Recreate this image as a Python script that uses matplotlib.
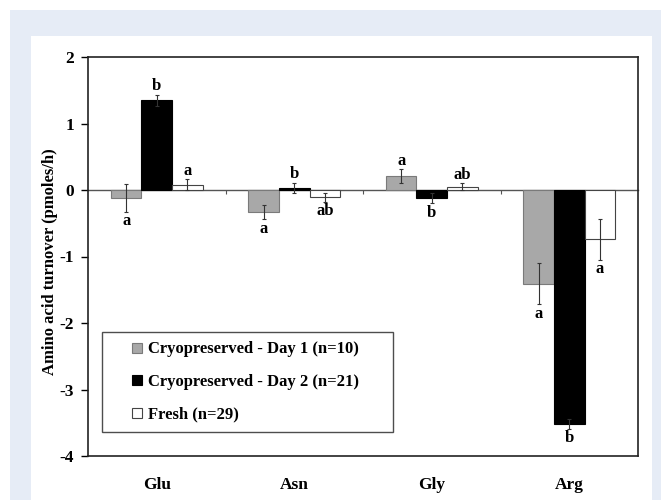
import matplotlib
matplotlib.use("Agg")
import matplotlib.pyplot as plt
from matplotlib.lines import Line2D
from matplotlib.patches import Rectangle
import numpy as np

categories = ["Glu", "Asn", "Gly", "Arg"]
series_names = ["Cryopreserved - Day 1 (n=10)",
                "Cryopreserved - Day 2 (n=21)",
                "Fresh (n=29)"]
day1 = [-0.12, -0.33, 0.21, -1.41]
day2 = [1.35, 0.03, -0.12, -3.52]
fresh = [0.08, -0.11, 0.05, -0.74]
day1_err = [0.21, 0.11, 0.10, 0.31]
day2_err = [0.08, 0.08, 0.08, 0.07]
fresh_err = [0.08, 0.07, 0.05, 0.31]
day1_letters = ["a", "a", "a", "a"]
day2_letters = ["b", "b", "b", "b"]
fresh_letters = ["a", "ab", "ab", "a"]
yticks = [-4, -3, -2, -1, 0, 1, 2]

values = [day1, day2, fresh]
errors = [day1_err, day2_err, fresh_err]
letters = [day1_letters, day2_letters, fresh_letters]
faces = ["#a8a8a8", "#000000", "#ffffff"]
edges = ["#7a7a7a", "#000000", "#444444"]

plt.rcParams['font.family'] = ['Liberation Serif', 'DejaVu Serif']
plt.rcParams['font.weight'] = 'bold'

fig = plt.figure(figsize=(6.61, 5.0), dpi=100)
fig.patch.set_facecolor("white")
# light blue frame and white panel
fig.patches.append(Rectangle((10/661, 0), 1 - 10/661, 1 - 10/500,
                             transform=fig.transFigure, facecolor="#e6ecf6",
                             edgecolor="none", zorder=-2))
fig.patches.append(Rectangle((31/661, 0), (652 - 31)/661, 1 - 36/500,
                             transform=fig.transFigure, facecolor="white",
                             edgecolor="none", zorder=-1))

ax = fig.add_axes([88/661, 44/500, 550/661, 399/500])
ax.set_facecolor("white")

x = np.arange(len(categories))
w = 0.222
offsets = [-w, 0, w]
for i in range(3):
    ax.bar(x + offsets[i], values[i], width=w, color=faces[i],
           edgecolor=edges[i], linewidth=0.8, zorder=2)
    ax.errorbar(x + offsets[i], values[i], yerr=errors[i], fmt="none",
                ecolor="#333333", elinewidth=0.8, capsize=1.5, capthick=0.8,
                zorder=3)
    for j in range(len(categories)):
        v = values[i][j]
        e = errors[i][j]
        if v >= 0:
            ax.annotate(letters[i][j], (x[j] + offsets[i], v + e),
                        xytext=(0, 0.5), textcoords="offset points",
                        ha="center", va="bottom", fontsize=12,
                        fontweight="bold")
        else:
            ax.annotate(letters[i][j], (x[j] + offsets[i], v - e),
                        xytext=(0, -1.0), textcoords="offset points",
                        ha="center", va="top", fontsize=12,
                        fontweight="bold")

ax.set_xlim(-0.5, len(categories) - 0.5)
ax.set_ylim(-4, 2)
ax.set_yticks(yticks)
ax.set_yticklabels([str(t) for t in yticks], fontsize=12.5, fontweight="bold")
ax.tick_params(axis="y", direction="out", length=5, width=1, pad=5)
ax.set_xticks(x)
ax.set_xticklabels(categories, fontsize=12.5, fontweight="bold")
ax.tick_params(axis="x", length=0, pad=15)
ax.set_ylabel("Amino acid turnover (pmoles/h)", fontsize=12,
              fontweight="bold")
ax.yaxis.set_label_coords(-0.0545, 0.486)
for s in ax.spines.values():
    s.set_linewidth(1.2)
    s.set_color("#222222")

# zero line with category boundary ticks
sec = ax.secondary_xaxis(4 / 6)
sec.set_xticks(x[:-1] + 0.5)
sec.set_xticklabels([])
sec.tick_params(axis="x", direction="in", length=3, width=0.8, colors="#555555")
for s in sec.spines.values():
    s.set_color("#555555")
    s.set_linewidth(1.0)

handles = [Line2D([], [], linestyle="none", marker="s", markersize=6.5,
                  markerfacecolor=faces[i], markeredgecolor=edges[i],
                  markeredgewidth=0.8) for i in range(3)]
leg = ax.legend(handles, series_names, loc="lower left",
                bbox_to_anchor=(0.0255, 0.06, 0.529, 0.243), mode="expand",
                fontsize=12, frameon=True, fancybox=False, borderpad=0.56,
                labelspacing=1.0, handlelength=3.12, handletextpad=-0.93,
                borderaxespad=0)
leg.get_frame().set_edgecolor("#222222")
leg.get_frame().set_linewidth(1.0)
for t in leg.get_texts():
    t.set_fontweight("bold")

fig.savefig("out.png", dpi=100)
